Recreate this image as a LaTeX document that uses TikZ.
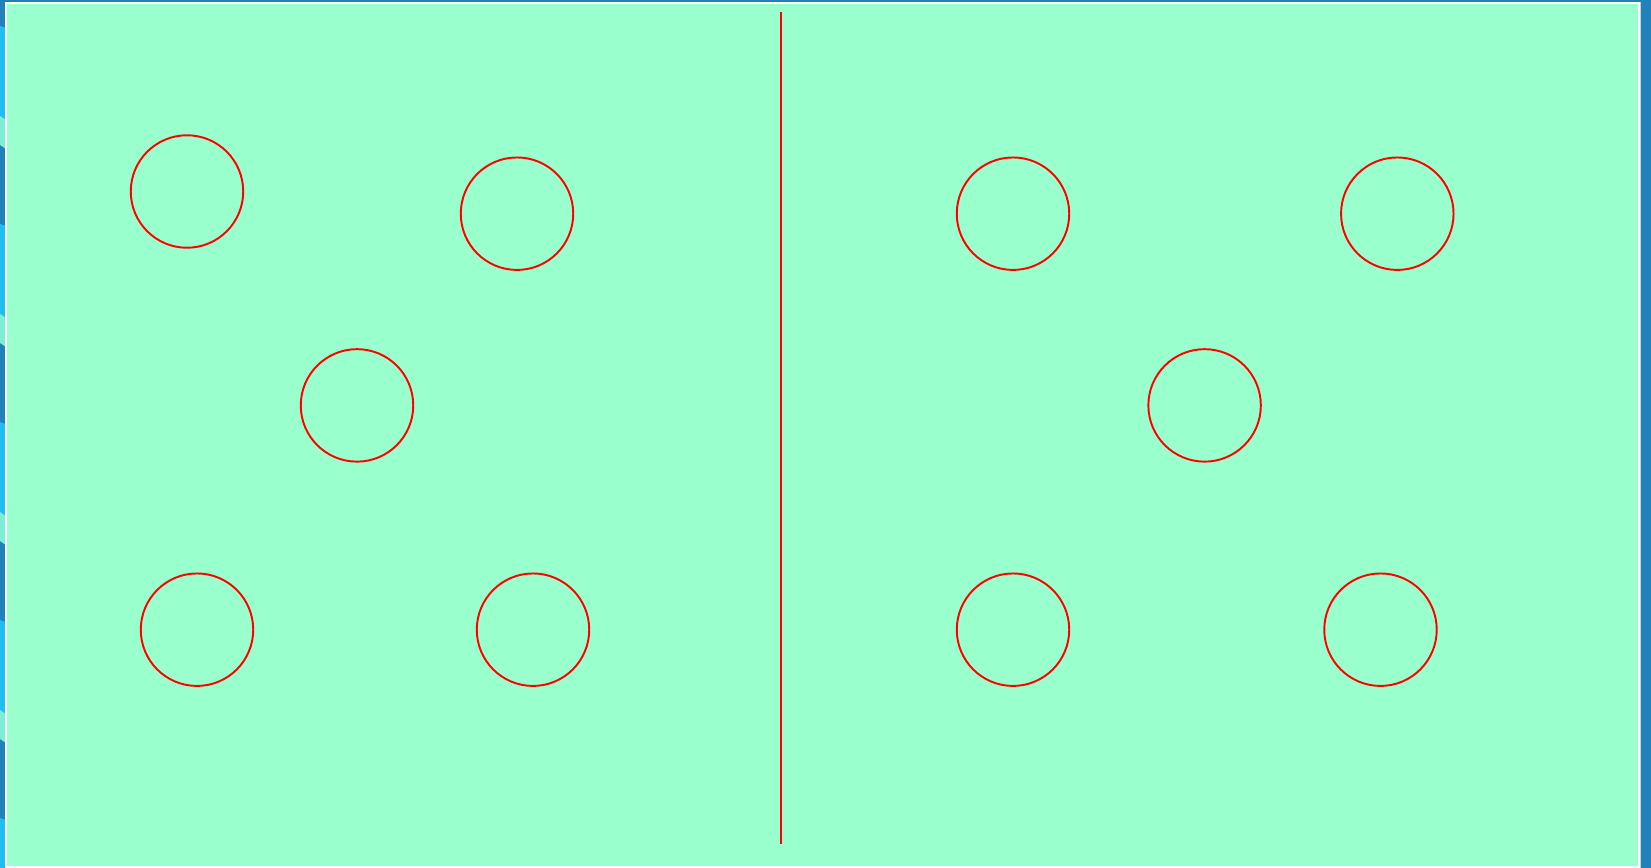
\documentclass[tikz,border=0pt]{standalone}
\usetikzlibrary{positioning}

\begin{document}
\begin{tikzpicture}[x=0.02cm, y=-0.02cm, player/.style={circle, draw=Net, line width=1.1pt, minimum size=2.25cm, inner sep=0pt}]
\definecolor{Frame}{HTML}{2181BA}\definecolor{SkyA}{HTML}{1FBDF1}\definecolor{SkyB}{HTML}{7DEDD6}\definecolor{Court}{HTML}{99FFCC}\definecolor{Net}{HTML}{FF0000}\definecolor{Rim}{HTML}{B5D6EA}
\useasboundingbox (0,0) rectangle (1651,868);
\fill[Frame] (0,0) rectangle (1651,868);
% stripes down the left edge
\foreach \y in {-82,116,314,512,710} {
  \fill[SkyB] (0,\y) -- (6,\y+4) -- (6,\y+33) -- (0,\y+29) -- cycle;
  \fill[SkyA] (0,\y+108) -- (6,\y+110) -- (6,\y+202) -- (0,\y+200) -- cycle;
}
\fill[white] (4.5,2) rectangle (1639.5,868);
\fill[Rim] (1639.5,2) rectangle (1640.5,868);
\fill[Court] (7,4.5) rectangle (1637.5,866);
% net
\coordinate (netTop) at (781,12); \coordinate (netBot) at (781,844);
\draw[Net, line width=1.1pt] (netTop) -- (netBot);
% left side
\node[player] (l1) at (187,191.5) {}; \node[player] (l2) at (517,213.7) {};
\node[player] (l3) at (357,405.4) {};
\node[player] (l4) at (197,629.7) {}; \node[player] (l5) at (533,629.7) {};
% right side
\node[player] (r1) at (1013,213.7) {}; \node[player] (r2) at (1397.3,213.7) {};
\node[player] (r3) at (1204.6,405.4) {};
\node[player] (r4) at (1013,629.7) {}; \node[player] (r5) at (1380.5,629.7) {};
\end{tikzpicture}
\end{document}
